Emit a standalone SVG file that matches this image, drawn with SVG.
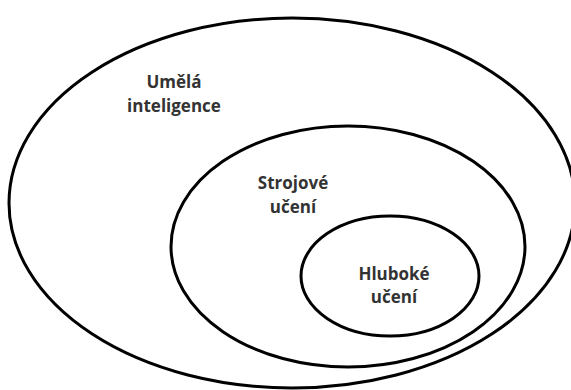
<svg xmlns="http://www.w3.org/2000/svg" width="571" height="390" viewBox="0 0 571 390">
<style>
.set{fill:none;stroke:#000;stroke-width:3}
.lbl{font-family:"Open Sans","Liberation Sans",sans-serif;font-weight:700;font-size:17px;fill:#333;text-anchor:middle}
</style>
<rect width="571" height="390" fill="#fff"/>
<g id="ai">
<ellipse class="set" cx="292" cy="203" rx="283" ry="185"/>
<text class="lbl" x="174" y="88">Umělá</text>
<text class="lbl" x="174" y="112">inteligence</text>
</g>
<g id="ml">
<ellipse class="set" cx="348" cy="246.5" rx="177" ry="120.5"/>
<text class="lbl" x="293" y="189">Strojové</text>
<text class="lbl" x="293" y="213">učení</text>
</g>
<g id="dl">
<ellipse class="set" cx="390" cy="276" rx="89" ry="60"/>
<text class="lbl" x="394" y="280">Hluboké</text>
<text class="lbl" x="394" y="303">učení</text>
</g>
<g id="connectors"/>
</svg>
